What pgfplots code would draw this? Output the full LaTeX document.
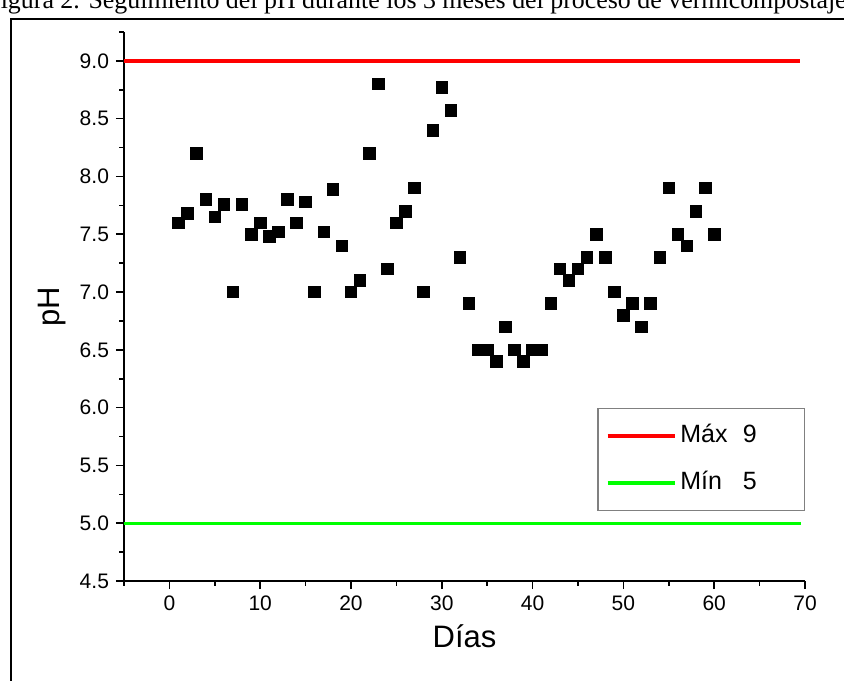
\documentclass[border=0pt]{standalone}
\usepackage{fontspec}
\setmainfont{Liberation Sans}
\newfontfamily\titlefont{Liberation Serif}
\usepackage{pgfplots}
\pgfplotsset{compat=1.18}

\begin{document}
\begin{tikzpicture}
\useasboundingbox (-62pt,-49.5pt) rectangle (360pt,290.5pt);
% figure frame and caption, both cut by the page edge
\draw[line width=1pt] (-56.5pt,-70pt) -- (-56.5pt,281pt) -- (380pt,281pt);
\node[anchor=base west, inner sep=0pt, font=\titlefont\fontsize{12.95}{15}\selectfont]
  at (-69pt,286.2pt) {Figura 2. Seguimiento del pH durante los 3 meses del proceso de vermicompostaje};
\begin{axis}[
  at={(0,0)}, anchor=south west,
  scale only axis,
  width=340.5pt, height=274.5pt,
  xmin=-5, xmax=70, ymin=4.5, ymax=9.25,
  axis lines=left,
  axis line style={-, black, line width=0.8pt},
  xtick={0,10,...,70}, minor xtick={-5,5,...,65},
  ytick={4.5,5,...,9}, minor ytick={4.75,5.25,...,9.25},
  tick align=outside,
  major tick length=4pt, minor tick length=2.25pt,
  tick style={black, line width=0.8pt},
  /pgf/number format/assume math mode=true,
  tick label style={font=\fontsize{10.5}{12}\selectfont},
  yticklabel style={/pgf/number format/.cd, fixed, fixed zerofill, precision=1},
  xlabel={Días}, ylabel={pH},
  label style={font=\fontsize{15.5}{18}\selectfont},
  legend style={
    at={(1.0,0.315)}, anchor=north east,
    draw=black!50, line width=0.6pt,
    font=\fontsize{12.5}{14}\selectfont,
    inner xsep=4pt, inner ysep=6pt, row sep=8pt,
    nodes={inner sep=2pt, text height=9pt, text depth=2.5pt},
    cells={anchor=west},
  },
  legend image code/.code={\draw[#1] (0pt,0pt) -- (33.5pt,0pt);},
]
% pH readings
\addplot[only marks, mark=square*, mark size=2.9pt, black, forget plot] coordinates {
  (1,7.60) (2,7.68) (3,8.20) (4,7.80) (5,7.65) (6,7.76) (7,7.00) (8,7.76)
  (9,7.50) (10,7.60) (11,7.48) (12,7.52) (13,7.80) (14,7.60) (15,7.78)
  (16,7.00) (17,7.52) (18,7.89) (19,7.40) (20,7.00) (21,7.10) (22,8.20)
  (23,8.80) (24,7.20) (25,7.60) (26,7.70) (27,7.90) (28,7.00) (29,8.40)
  (30,8.77) (31,8.57) (32,7.30) (33,6.90) (34,6.50) (35,6.50) (36,6.40)
  (37,6.70) (38,6.50) (39,6.40) (40,6.50) (41,6.50) (42,6.90) (43,7.20)
  (44,7.10) (45,7.20) (46,7.30) (47,7.50) (48,7.30) (49,7.00) (50,6.80)
  (51,6.90) (52,6.70) (53,6.90) (54,7.30) (55,7.90) (56,7.50) (57,7.40)
  (58,7.70) (59,7.90) (60,7.50)
};
% limits
\addplot[red, line width=1.7pt] coordinates {(-5,9) (69.4,9)};
\addlegendentry{\makebox[56pt][l]{\makebox[2.5em][l]{Máx}9}}
\addplot[green, line width=1.7pt] coordinates {(-5,5) (69.6,5)};
\addlegendentry{\makebox[56pt][l]{\makebox[2.5em][l]{Mín}5}}
\end{axis}
\end{tikzpicture}
\end{document}
